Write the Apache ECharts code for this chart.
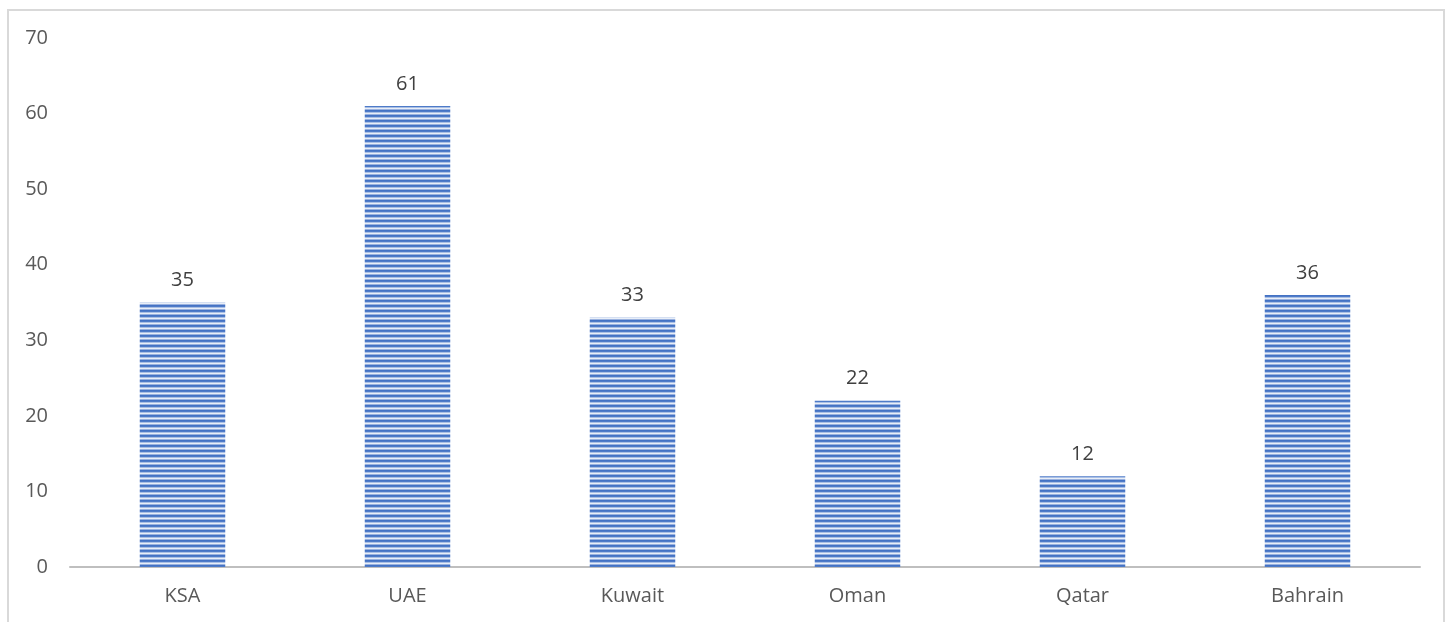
<!DOCTYPE html>
<html><head><meta charset="utf-8">
<script src="https://cdn.jsdelivr.net/npm/echarts@6/dist/echarts.min.js"></script>
<style>
html,body{margin:0;padding:0;background:#fff;}
#frame{position:absolute;left:7px;top:9px;width:1438px;height:640px;border:2px solid #d9d9d9;box-sizing:border-box;}
#c{position:absolute;left:0;top:0;width:1452px;height:622px;}
</style></head>
<body>
<div id="frame"></div>
<div id="c"></div>
<script>
const categories = ['KSA','UAE','Kuwait','Oman','Qatar','Bahrain'];
const values = [35,61,33,22,12,36];

const pc = document.createElement('canvas');
pc.width = 8; pc.height = 5;
const ctx = pc.getContext('2d');
const rows = ['#4472c4','#4f7bc8','#a9bfe5','#e8eef8','#9ab2df'];
rows.forEach((col,i)=>{ctx.fillStyle=col;ctx.fillRect(0,i,8,1);});

const font = 'Open Sans, Noto Sans, sans-serif';
const chart = echarts.init(document.getElementById('c'));
chart.setOption({
  animation:false,
  grid:{left:70,right:32,top:38,bottom:55},
  xAxis:{type:'category',data:categories,
    axisLine:{lineStyle:{color:'#bfbfbf',width:2}},
    axisTick:{show:false},
    axisLabel:{color:'#595959',fontSize:20,fontFamily:font,margin:19}},
  yAxis:{type:'value',min:0,max:70,interval:10,
    splitLine:{show:false},axisLine:{show:false},axisTick:{show:false},
    axisLabel:{color:'#595959',fontSize:20,fontFamily:font,margin:22}},
  series:[{type:'bar',data:values,barWidth:'38%',
    itemStyle:{color:{image:pc,repeat:'repeat'}},
    label:{show:true,position:'top',distance:12,color:'#404040',fontSize:20,fontFamily:font}}]
});
</script>
</body></html>
